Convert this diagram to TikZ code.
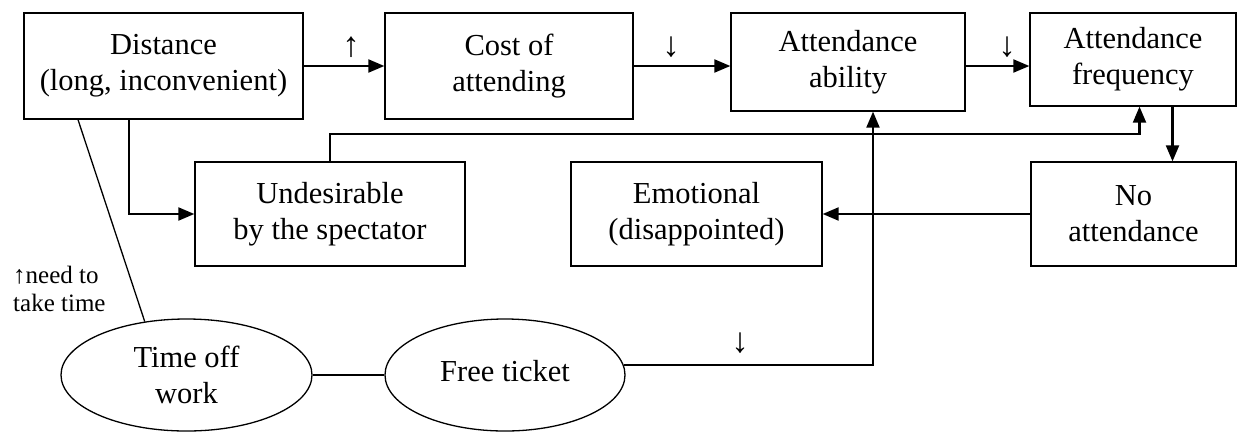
\documentclass[tikz,border=0pt]{standalone}
\usepackage{fontspec}
\setmainfont{Liberation Serif}
\usetikzlibrary{shapes.geometric, arrows.meta, positioning, calc}

\begin{document}
\begin{tikzpicture}[x=1pt, y=-1pt,
    box/.style={rectangle, draw, line width=1.3pt, inner sep=0pt, align=center,
                font=\fontsize{30.5}{36}\selectfont},
    oval/.style={ellipse, draw, line width=1.3pt, inner sep=0pt, align=center,
                 minimum width=251pt, minimum height=112pt,
                 font=\fontsize{30.5}{36}\selectfont},
    arr/.style={-{Triangle[length=16pt, width=13pt]}, line width=2.1pt},
    link/.style={line width=1.3pt},
    sign/.style={font=\fontsize{35}{40}\selectfont, inner sep=0pt}]

    \useasboundingbox (0,0) rectangle (1238,432);

    % Boxes
    \node[box, minimum width=279pt, minimum height=106pt] (distance) at (163.5, 66) {Distance\\(long, inconvenient)};
    \node[box, minimum width=248pt, minimum height=106pt] (cost) at (509, 66) {Cost of\\attending};
    \node[box, minimum width=234pt, minimum height=98pt] (ability) at (848, 62) {Attendance\\ability};
    \node[box, minimum width=206pt, minimum height=93pt] (freq) at (1133, 59.5) {Attendance\\frequency};
    \node[box, minimum width=270pt, minimum height=104pt] (undesirable) at (330, 214) {Undesirable\\by the spectator};
    \node[box, minimum width=251pt, minimum height=104pt] (emotional) at (696.5, 214) {Emotional\\(disappointed)};
    \node[box, minimum width=205pt, minimum height=104pt] (noatt) at (1133.5, 214) {No\\attendance};

    % Ovals
    \node[oval] (timeoff) at (186.5, 375) {Time off\\work};
    \node[oval, minimum width=240pt] (freeticket) at (505, 375) {\raisebox{8pt}{Free ticket}};

    % Arrows
    \draw[arr] (distance) -- (cost);
    \draw[arr] (cost) -- (cost -| ability.west);
    \draw[arr] (ability.east |- cost) -- (freq.west |- cost);
    \draw[arr] ($(distance.south)+(-34.5,0)$) |- (undesirable.west);
    \draw[arr] (undesirable.north) |- ($(freq.south)+(6.5,27)$) -- ($(freq.south)+(6.5,0)$);
    \draw[arr] ($(freq.south)+(39.5,0)$) coordinate (fn) -- (fn |- noatt.north);
    \draw[arr] (noatt) -- (emotional);
    \draw[arr] (freeticket.5) -| ($(ability.south)+(25,0)$);

    % Lines
    \draw[link] ($(distance.south)+(-85.5,0)$) -- (timeoff.128);
    \draw[link] (timeoff) -- (freeticket);

    % Labels
    \node[sign] (up1) at (351, 47) {↑};
    \node[sign] (down1) at (671, 47) {↓};
    \node[sign] (down2) at (1007, 47) {↓};
    \node[sign] (down3) at (740, 343) {↓};
    \node[font=\fontsize{25}{28}\selectfont, align=left, inner sep=0pt,
          anchor=north west] (needtime) at (13, 266) {↑need to\\take time};
\end{tikzpicture}
\end{document}
